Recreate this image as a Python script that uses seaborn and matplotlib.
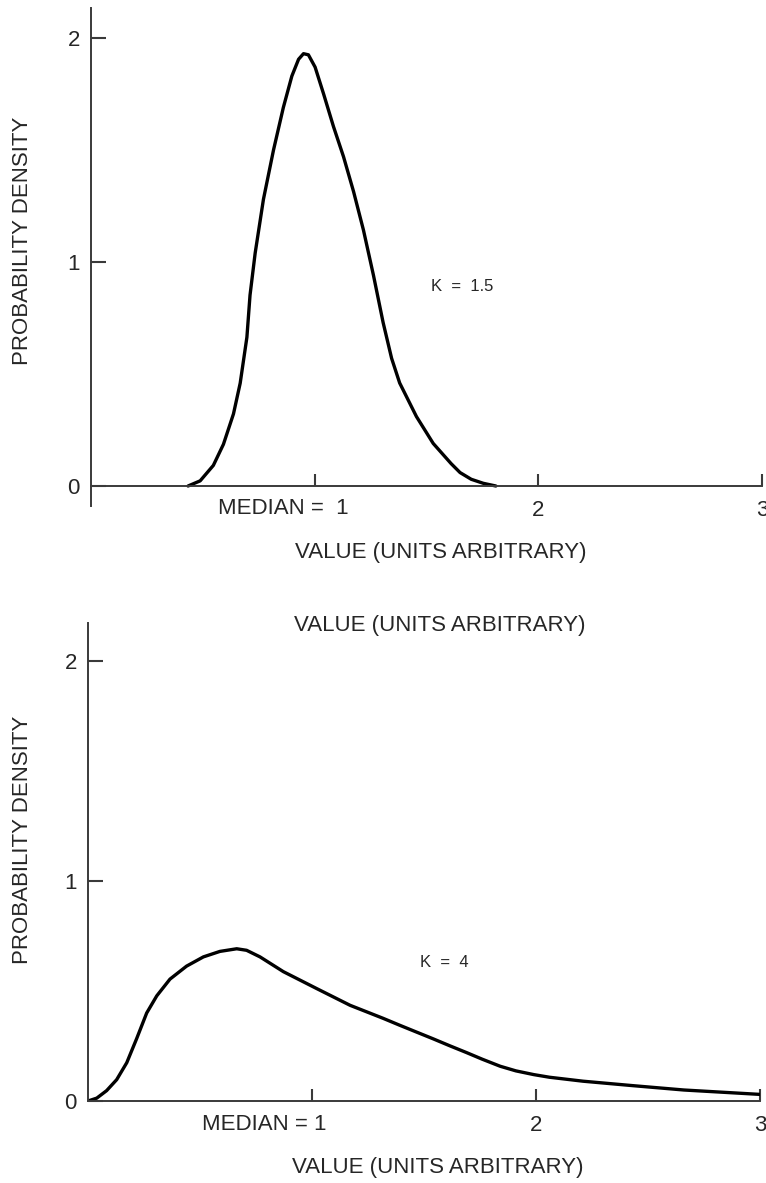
import matplotlib
matplotlib.use("Agg")
import matplotlib.pyplot as plt
import seaborn as sns
import pandas as pd

# ---- data ----
top_x = [0.434, 0.488, 0.547, 0.592, 0.637, 0.667, 0.697, 0.711, 0.734, 0.771, 0.816,
         0.860, 0.898, 0.928, 0.950, 0.972, 1.002, 1.040, 1.084, 1.129, 1.174, 1.218,
         1.263, 1.306, 1.344, 1.380, 1.455, 1.530, 1.610, 1.650, 1.700, 1.754, 1.810]
top_y = [0.0, 0.023, 0.092, 0.186, 0.322, 0.459, 0.664, 0.852, 1.04, 1.28, 1.50,
         1.69, 1.83, 1.905, 1.93, 1.925, 1.87, 1.75, 1.605, 1.47, 1.314, 1.143,
         0.94, 0.73, 0.57, 0.46, 0.31, 0.19, 0.10, 0.06, 0.03, 0.012, 0.0]

bot_x = [0.0, 0.039, 0.083, 0.128, 0.173, 0.217, 0.262, 0.307, 0.366, 0.44, 0.515,
         0.589, 0.664, 0.708, 0.768, 0.872, 1.021, 1.17, 1.317, 1.39, 1.46, 1.54,
         1.615, 1.69, 1.76, 1.84, 1.91, 1.99, 2.06, 2.21, 2.43, 2.66, 3.0]
bot_y = [0.0, 0.013, 0.047, 0.097, 0.174, 0.283, 0.40, 0.478, 0.554, 0.613, 0.655,
         0.68, 0.692, 0.685, 0.655, 0.588, 0.511, 0.435, 0.376, 0.345, 0.316, 0.283,
         0.251, 0.22, 0.19, 0.158, 0.137, 0.12, 0.108, 0.09, 0.07, 0.05, 0.03]

x_ticks = [1, 2, 3]
x_ticklabels = ["", "2", "3"]
y_ticks = [0, 1, 2]
y_ticklabels = ["0", "1", "2"]
median_label_top = "MEDIAN =  1"
median_label_bot = "MEDIAN = 1"
k_top = "K  =  1.5"
k_bot = "K  =  4"
xlabel = "VALUE (UNITS ARBITRARY)"
ylabel = "PROBABILITY DENSITY"

sns.set_style("white")
plt.rcParams["font.family"] = ["Liberation Sans", "DejaVu Sans"]

W, H = 766, 1183
fig = plt.figure(figsize=(W / 100, H / 100), dpi=100)

ax1 = fig.add_axes([91 / W, (H - 506) / H, 671 / W, 498 / H])
ax2 = fig.add_axes([88 / W, (H - 1101) / H, 672 / W, 478 / H])

df_top = pd.DataFrame({"x": top_x, "y": top_y})
df_bot = pd.DataFrame({"x": bot_x, "y": bot_y})

sns.lineplot(data=df_top, x="x", y="y", ax=ax1, color="black", linewidth=2.4, sort=False)
sns.lineplot(data=df_bot, x="x", y="y", ax=ax2, color="black", linewidth=2.4, sort=False)
for ax in (ax1, ax2):
    for ln in ax.get_lines():
        ln.set_solid_joinstyle("round")
        ln.set_solid_capstyle("round")

spine_col = "#3a3a3a"
for ax in (ax1, ax2):
    ax.set_xlim(0, 3)
    for s in ("top", "right"):
        ax.spines[s].set_visible(False)
    ax.spines["left"].set_color(spine_col)
    ax.spines["bottom"].set_color(spine_col)
    ax.spines["left"].set_linewidth(1.4)
    ax.spines["bottom"].set_linewidth(1.4)
    ax.set_xticks(x_ticks)
    ax.set_xticklabels(x_ticklabels)
    ax.set_yticks(y_ticks)
    ax.set_yticklabels(y_ticklabels)
    ax.tick_params(axis="x", bottom=True, direction="in", length=8.5, width=1.5,
                   color=spine_col, labelsize=16, pad=10)
    ax.tick_params(axis="y", left=True, direction="in", length=10.5, width=1.5,
                   color=spine_col, labelsize=16, pad=8)
    ax.set_xlabel("")
    ax.set_ylabel("")
    ax.patch.set_alpha(0)

ax1.set_ylim(-20 / 224, 478 / 224)
ax1.spines["bottom"].set_position(("data", 0))
ax2.set_ylim(0, 478 / 220)

# y labels
fig.text(23 / W, 1 - 241 / H, ylabel, rotation=90, ha="center", va="center", fontsize=16)
fig.text(23 / W, 1 - 840 / H, ylabel, rotation=90, ha="center", va="center", fontsize=16)

# x labels / title
fig.text(441 / W, 1 - 552 / H, xlabel, ha="center", va="center", fontsize=16)
fig.text(440 / W, 1 - 625 / H, xlabel, ha="center", va="center", fontsize=16)
fig.text(438 / W, 1 - 1168 / H, xlabel, ha="center", va="center", fontsize=16)

# median labels
fig.text(283 / W, 1 - 508 / H, median_label_top, ha="center", va="center", fontsize=16)
fig.text(264 / W, 1 - 1124 / H, median_label_bot, ha="center", va="center", fontsize=16)

# K annotations
ax1.text(1.66, 0.89, k_top, ha="center", va="center", fontsize=12)
ax2.text(1.59, 0.63, k_bot, ha="center", va="center", fontsize=12)

fig.savefig("out.png", dpi=100)
